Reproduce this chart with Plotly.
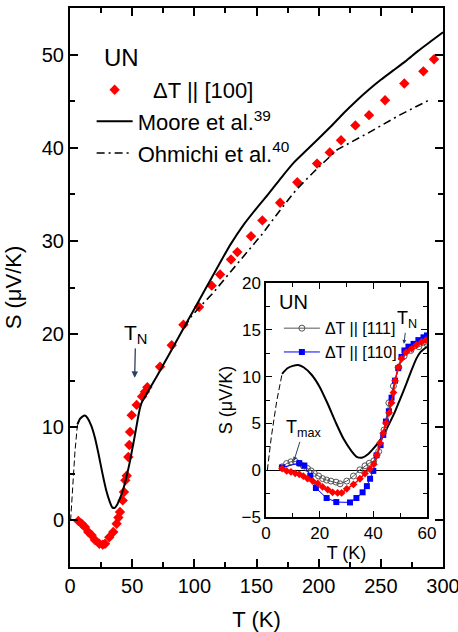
import plotly.graph_objects as go

# ---- main panel: dT || [100] (red diamonds)
T100 = [6.7, 9.4, 12.0, 14.7, 17.4, 20.1, 23.6, 26.3, 28.2, 31.6, 34.8, 37.5, 38.9, 40.2,
        42.4, 43.4, 44.5, 45.6, 46.9, 47.7, 48.3, 49.6, 53.6, 58.0, 60.3, 62.2, 72.4, 81.8,
        91.2, 103.8, 114.0, 120.7, 129.5, 134.6, 145.6, 154.7, 169.0, 182.8, 198.7, 208.9,
        218.0, 229.5, 240.5, 253.4, 268.9, 284.2, 292.8]
S100 = [-0.05, -0.36, -0.7, -1.25, -1.6, -2.1, -2.5, -2.6, -2.5, -1.8, -1.25, -0.36, 0.3, 0.9,
        2.15, 3.05, 4.3, 4.8, 6.8, 8.1, 9.5, 11.3, 12.4, 13.3, 13.8, 14.3, 16.5, 18.8,
        21.0, 22.9, 25.2, 26.4, 28.0, 28.8, 30.5, 32.2, 34.1, 36.3, 38.3, 39.5,
        40.8, 42.4, 43.5, 45.1, 46.9, 48.2, 49.5]

# ---- Moore et al. (solid) and its low-T dashed extrapolation
moore_T = [6, 8, 10, 12, 14, 17, 20, 23, 26, 29, 32, 34, 36, 38, 40, 42, 44, 46, 48, 50,
           52, 54, 56, 57.5, 60, 70, 80, 90, 100, 110, 120, 129, 140, 150, 160, 170,
           180, 190, 200, 210, 220, 230, 240, 250, 260, 270, 280, 290, 300]
moore_S = [10.3, 10.9, 11.15, 11.25, 11.0, 10.2, 8.9, 7.1, 5.1, 3.3, 2.0, 1.4, 1.35, 1.7,
           2.3, 3.0, 3.9, 5.0, 6.2, 7.6, 9.0, 10.5, 11.9, 12.6, 13.2, 15.5, 17.9, 20.3,
           22.7, 25.1, 27.5, 29.6, 31.8, 33.5, 35.1, 36.8, 38.4, 39.7, 41.0, 42.3,
           43.7, 45.0, 46.2, 47.3, 48.3, 49.3, 50.4, 51.4, 52.4]
moore_dash_T = [0.5, 2.0, 4.0, 6.0]
moore_dash_S = [0.0, 3.6, 7.4, 10.3]

# ---- Ohmichi et al. (dash-dot)
ohm_T = [92, 97, 105, 115, 128, 142, 155, 169, 182, 196, 209, 215, 240, 265, 290]
ohm_S = [20.7, 21.8, 23.0, 24.4, 26.5, 28.7, 30.8, 33.3, 35.5, 37.4, 39.1, 39.8, 41.6, 43.5, 45.2]

# ---- inset data
Ti100 = [6.0, 7.7, 9.3, 10.9, 12.4, 13.9, 15.5, 17.4, 19.3, 21.1, 23.0, 24.8, 26.7, 28.2,
         30.1, 32.6, 35.0, 36.9, 38.7, 40.2, 41.3, 42.5, 43.7, 44.7, 45.9, 46.8, 47.5,
         48.1, 49.3, 50.5, 52.3, 54.3, 56.1, 58.0, 59.6]
Si100 = [0.18, -0.07, -0.18, -0.33, -0.43, -0.62, -0.9, -1.16, -1.41, -1.78, -2.07, -2.36,
         -2.43, -2.43, -1.99, -1.52, -0.91, -0.36, 0.11, 0.65, 1.6, 2.9, 3.95, 5.04, 6.13,
         7.2, 8.3, 9.57, 11.0, 11.9, 12.6, 13.0, 13.4, 13.7, 13.9]

T110 = [6.0, 12.4, 14.3, 16.5, 18.6, 22.6, 26.2, 31.3, 33.7, 36.0, 37.6, 38.8, 40.0, 41.2,
        42.7, 43.7, 44.7, 45.8, 46.8, 48.1, 49.3, 50.5, 51.6, 53.1, 55.0, 56.8, 58.7, 60.0]
S110 = [0.29, 0.76, 0.5, -0.6, -1.9, -2.97, -3.4, -3.44, -2.97, -2.36, -1.7, -0.91, -0.07,
        1.59, 2.68, 3.77, 5.2, 6.3, 7.75, 9.57, 10.9, 12.1, 12.8, 13.2, 13.5, 13.9, 14.2, 14.4]

T111 = [6.0, 7.7, 9.3, 10.9, 12.4, 13.9, 15.5, 16.8, 18.0, 19.6, 21.1, 22.6, 24.2, 26.1,
        27.6, 30.1, 32.6, 35.0, 36.9, 38.5, 40.2, 42.0, 44.0, 45.8, 47.5, 49.5, 51.5, 54.0,
        57.0, 60.0]
S111 = [0.36, 0.72, 0.9, 0.95, 0.72, 0.47, 0.18, -0.07, -0.33, -0.62, -0.9, -1.05, -1.16,
        -1.27, -1.45, -1.16, -0.62, 0.04, 0.47, 0.75, 1.0, 2.0, 4.3, 7.2, 9.0, 11.0, 12.2,
        12.8, 13.2, 13.5]

FONT = "Arial, Liberation Sans, sans-serif"

fig = go.Figure()

# main panel
fig.add_trace(go.Scatter(x=T100, y=S100, mode="markers", name="\u2002\u2009ΔT || [100]",
                         marker=dict(symbol="diamond", size=8, color="#ff0000")))
fig.add_trace(go.Scatter(x=moore_T, y=moore_S, mode="lines", name="Moore et al.<sup>39</sup>",
                         line=dict(color="black", width=2, shape="spline", smoothing=0.6)))
fig.add_trace(go.Scatter(x=ohm_T, y=ohm_S, mode="lines", name="Ohmichi et al.<sup>40</sup>",
                         line=dict(color="black", width=1.6, dash="8px,4px,2px,4px")))
fig.add_trace(go.Scatter(x=moore_dash_T, y=moore_dash_S, mode="lines", showlegend=False,
                         line=dict(color="black", width=1, dash="6px,3px")))

# inset
fig.add_trace(go.Scatter(x=moore_T, y=moore_S, mode="lines", xaxis="x2", yaxis="y2",
                         showlegend=False,
                         line=dict(color="black", width=2, shape="spline", smoothing=0.6)))
fig.add_trace(go.Scatter(x=moore_dash_T, y=moore_dash_S, mode="lines", xaxis="x2", yaxis="y2",
                         showlegend=False, line=dict(color="black", width=1, dash="6px,3px")))
fig.add_trace(go.Scatter(x=T111, y=S111, mode="lines+markers", xaxis="x2", yaxis="y2",
                         name="ΔT || [111]", legend="legend2",
                         line=dict(color="#555555", width=1),
                         marker=dict(symbol="circle-open", size=6, color="#555555",
                                     line=dict(width=1))))
fig.add_trace(go.Scatter(x=T110, y=S110, mode="lines+markers", xaxis="x2", yaxis="y2",
                         name="ΔT || [110]", legend="legend2",
                         line=dict(color="#0000ff", width=1),
                         marker=dict(symbol="square", size=6, color="#0000ff")))
fig.add_trace(go.Scatter(x=Ti100, y=Si100, mode="lines+markers", xaxis="x2", yaxis="y2",
                         showlegend=False, line=dict(color="#ff0000", width=1.5),
                         marker=dict(symbol="diamond", size=6, color="#ff0000")))

axis_common = dict(showline=True, linecolor="black", mirror="ticks", ticks="inside",
                   showgrid=False, zeroline=False, tickcolor="black", automargin=False,
                   ticklabeloverflow="allow")

fig.update_layout(
    width=458, height=632,
    margin=dict(l=70, r=15, t=8, b=65),
    paper_bgcolor="white", plot_bgcolor="white",
    font=dict(family=FONT, color="black"),
    xaxis=dict(**axis_common, linewidth=2, range=[0, 300], dtick=50, tick0=0, ticklen=8,
               tickwidth=1.5, minor=dict(ticks="inside", dtick=25, ticklen=5, tickwidth=1.5,
                                         tickcolor="black"),
               tickfont=dict(size=20),
               title=dict(text="T (K)", font=dict(size=22), standoff=20)),
    yaxis=dict(**axis_common, linewidth=2, range=[-5, 55], dtick=10, tick0=0, ticklen=8,
               tickwidth=1.5, minor=dict(ticks="inside", dtick=5, ticklen=5, tickwidth=1.5,
                                         tickcolor="black"),
               tickfont=dict(size=20),
               title=dict(text="S (μV/K)", font=dict(size=22), standoff=14)),
    xaxis2=dict(**axis_common, linewidth=1.5, domain=[0.5255, 0.957], anchor="y2",
                range=[0, 60], dtick=20, tick0=0, ticklen=6, tickwidth=1,
                minor=dict(ticks="inside", dtick=10, ticklen=4, tickwidth=1, tickcolor="black"),
                tickfont=dict(size=17), ticklabelstandoff=0,
                title=dict(text="T (K)", font=dict(size=18), standoff=0)),
    yaxis2=dict(**axis_common, linewidth=1.5, domain=[0.0894, 0.508], anchor="x2",
                range=[-5, 20], dtick=5, tick0=0, ticklen=6, tickwidth=1,
                minor=dict(ticks="inside", dtick=2.5, ticklen=4, tickwidth=1, tickcolor="black"),
                tickfont=dict(size=17),
                title=dict(text="S (μV/K)", font=dict(size=18), standoff=4)),
    legend=dict(x=0.058, y=0.891, xanchor="left", yanchor="top", bgcolor="rgba(0,0,0,0)",
                font=dict(size=22), itemwidth=36, tracegroupgap=0),
    legend2=dict(x=0.56, y=0.4575, xanchor="left", yanchor="top", bgcolor="rgba(0,0,0,0)",
                 font=dict(size=16), itemwidth=36, tracegroupgap=0),
    showlegend=True,
)
fig.layout.yaxis2.zeroline = True
fig.layout.yaxis2.zerolinecolor = "black"
fig.layout.yaxis2.zerolinewidth = 1.2

fig.add_annotation(text="UN", xref="paper", yref="paper", x=0.085, y=0.912,
                   xanchor="left", yanchor="middle", showarrow=False, font=dict(size=24))
fig.add_annotation(text="UN", xref="x2 domain", yref="y2 domain", x=0.07, y=0.975,
                   xanchor="left", yanchor="top", showarrow=False, font=dict(size=20))
fig.add_annotation(text="T<sub>N</sub>", x=52, y=15.3, xref="x", yref="y", showarrow=True,
                   ax=1, ay=-44, arrowhead=2, arrowsize=1, arrowwidth=1.3, font=dict(size=21))
fig.add_annotation(text="T<sub>N</sub>", x=51.4, y=13.5, xref="x2", yref="y2", showarrow=True,
                   ax=3, ay=-24, arrowhead=2, arrowsize=0.8, arrowwidth=1, font=dict(size=18))
fig.add_annotation(text="T<sub>max</sub>", x=10.4, y=1.0, xref="x2", yref="y2", showarrow=True,
                   ax=10, ay=-32, arrowhead=2, arrowsize=0.8, arrowwidth=1, font=dict(size=18))

fig.write_html("out.html")
